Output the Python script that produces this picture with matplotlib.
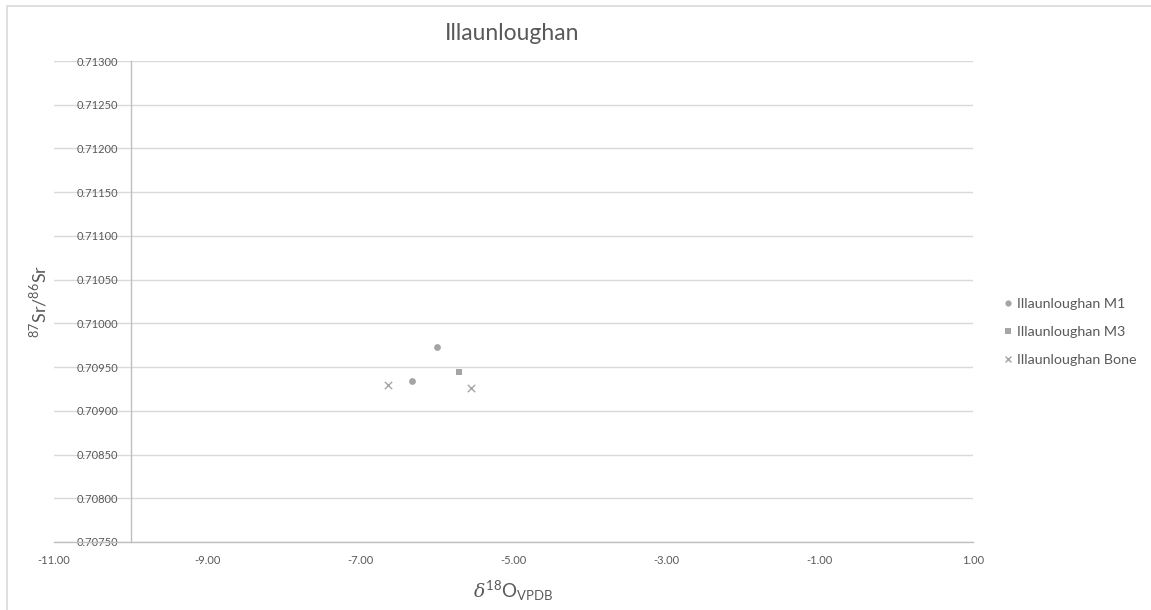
import matplotlib
matplotlib.use("Agg")
import matplotlib.pyplot as plt
from matplotlib.patches import Rectangle
from matplotlib.lines import Line2D

plt.rcParams['font.family'] = ['Lato', 'DejaVu Sans']
plt.rcParams['mathtext.fontset'] = 'custom'
plt.rcParams['mathtext.rm'] = 'Lato'
plt.rcParams['mathtext.it'] = 'DejaVu Serif:italic'

# Data
m1_x = [-6.00, -6.33]
m1_y = [0.709726, 0.709341]
m3_x = [-5.71]
m3_y = [0.709447]
bone_x = [-6.64, -5.56]
bone_y = [0.709295, 0.709264]

series_names = ["Illaunloughan M1", "Illaunloughan M3", "Illaunloughan Bone"]
title = "Illaunloughan"
x_ticks = [-11, -9, -7, -5, -3, -1, 1]
y_ticks = [0.7075 + 0.0005 * i for i in range(12)]

W, H = 1151, 610
fig = plt.figure(figsize=(W / 100, H / 100), dpi=100)
ax = fig.add_axes([54 / W, 1 - 542 / H, (973 - 54) / W, (542 - 61) / H])

grey = '#A5A5A5'
txt = '#595959'
ax.scatter(m1_x, m1_y, marker='o', s=24, color=grey, zorder=3, linewidths=0)
ax.scatter(m3_x, m3_y, marker='s', s=22, color=grey, zorder=3, linewidths=0)
ax.scatter(bone_x, bone_y, marker='x', s=28, color=grey, zorder=3, linewidths=1.0)

ax.set_xlim(-11, 1)
ax.set_ylim(0.7075, 0.7130)
ax.set_xticks(x_ticks)
ax.set_xticklabels([f"{v:.2f}" for v in x_ticks])
ax.set_yticks(y_ticks)
ax.set_yticklabels([f"{v:.5f}" for v in y_ticks])

ax.grid(axis='y', color='#D9D9D9', linewidth=1.0, zorder=0)
ax.set_axisbelow(True)
for s in ['top', 'right']:
    ax.spines[s].set_visible(False)
ax.spines['bottom'].set_color('#BFBFBF')
ax.spines['bottom'].set_linewidth(1.0)
ax.spines['left'].set_position(('data', -10))
ax.spines['left'].set_color('#BFBFBF')
ax.spines['left'].set_linewidth(1.0)
ax.tick_params(axis='both', length=0, labelsize=8, colors=txt)
ax.tick_params(axis='y', pad=9)
ax.tick_params(axis='x', pad=9)

fig.text(512 / W, 1 - 34 / H, title, ha='center', va='center', fontsize=16.5, color=txt)
fig.text(513 / W, 1 - 591 / H, r'$\delta^{18}\mathrm{O}_{\mathrm{VPDB}}$', ha='center', va='center',
         fontsize=13.5, color=txt)
fig.text(38 / W, 1 - 301 / H, r'$^{87}\mathrm{Sr/}^{86}\mathrm{Sr}$', ha='center', va='center',
         rotation=90, fontsize=13, color=txt)

handles = [
    Line2D([], [], marker='o', linestyle='none', color=grey, markersize=4.5, markeredgewidth=0),
    Line2D([], [], marker='s', linestyle='none', color=grey, markersize=4.5, markeredgewidth=0),
    Line2D([], [], marker='x', linestyle='none', color=grey, markersize=5, markeredgewidth=1.0),
]
leg = fig.legend(handles, series_names, loc='center left', bbox_to_anchor=(996 / W, 1 - 332 / H),
                 frameon=False, fontsize=10.3, handlelength=0.7, handletextpad=0.25, labelspacing=1.1,
                 labelcolor=txt, borderpad=0)

fig.add_artist(Rectangle((7 / W, -0.01), 1.05, 1 - 6 / H + 0.01, transform=fig.transFigure,
                         fill=False, edgecolor='#D9D9D9', linewidth=1.2))

fig.savefig('out.png', dpi=100)
